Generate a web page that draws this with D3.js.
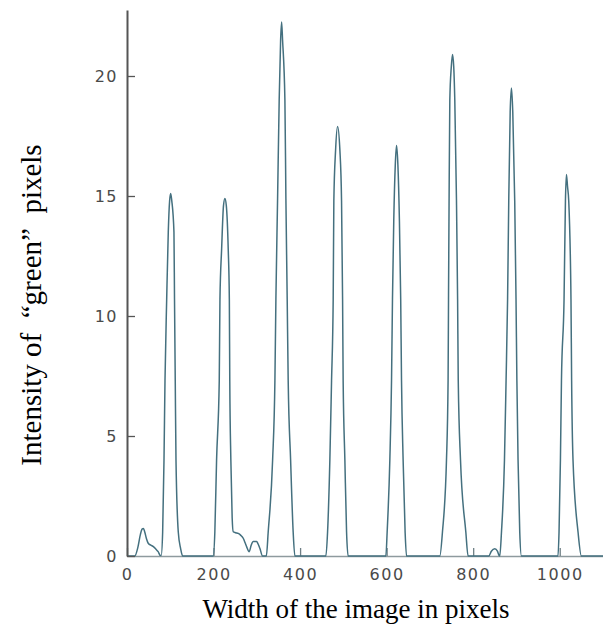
<!DOCTYPE html>
<html>
<head>
<meta charset="utf-8">
<script src="https://cdn.jsdelivr.net/npm/d3@7"></script>
<style>
  html, body { margin: 0; padding: 0; background: #ffffff; }
  svg { display: block; }
</style>
</head>
<body>
<svg id="chart" width="603" height="633"></svg>
<script>
// ---- data ----
const widthPx = [
  0, 18,
  25, 31, 35, 38, 41, 45, 49, 55, 61, 67, 72, 77, 79,
  82.4, 85.5, 87.8, 91.7, 95.4, 98.5, 101, 103.5, 108.5, 109.8, 111.5, 113.2, 118.5, 124, 128.6,
  199.3, 203, 207, 213.2, 214.8, 218.7, 223, 226.3, 229.5, 233.9, 236.5, 237.5, 240, 243, 245.5,
  251, 257, 263, 268.6, 273, 276.4, 282.4, 287, 291.7, 299.5, 303, 307, 313.4,
  322, 326.3, 336.5, 341.8, 344.1, 348, 351.7, 355, 357.3, 359.5, 364.9, 367.2, 370.2, 372.5, 378.1, 384, 388,
  459.6, 463.5, 468.8, 472.7, 476.5, 478, 482, 486.6, 492, 495.8, 498.2, 499.5, 503.5, 507.4, 511,
  598.2, 601.2, 607.4, 611.3, 613.5, 616.5, 620, 622.9, 626, 629.5, 632.5, 634.4, 638.1, 642.7, 646,
  722.9, 729, 738.3, 742, 743, 744.3, 746, 749.5, 752.2, 755, 757.5, 761.4, 764, 765.5, 770.7, 783, 788.2,
  836, 842, 850, 856, 860,
  861.4, 865.4, 872.3, 876, 879.5, 882.2, 885.5, 888.5, 891.5, 896, 899, 901, 903.7, 907.6, 911.5,
  996, 998.4, 1001.6, 1004, 1010, 1013.2, 1015.5, 1018, 1020.8, 1026, 1027.5, 1030.7, 1042.3, 1050,
  1100
];
const greenIntensity = [
  0, 0,
  0.35, 0.9, 1.12, 1.15, 1.0, 0.72, 0.53, 0.45, 0.39, 0.28, 0.18, 0.02, 0.02,
  1, 4, 7.3, 10.7, 13.5, 14.8, 15.1, 14.8, 13.5, 10.7, 7.3, 4, 1, 0.3, 0,
  0, 1, 4, 7.3, 10.7, 12.8, 14.6, 14.9, 14.6, 12.8, 10.7, 7.3, 4, 1.6, 1.01,
  0.97, 0.94, 0.86, 0.74, 0.55, 0.39, 0.18, 0.45, 0.6, 0.6, 0.5, 0.32, 0,
  0, 1, 4, 7.3, 10.7, 14.9, 19.0, 21.5, 22.25, 21.5, 19.0, 14.9, 10.7, 7.3, 4, 1, 0,
  0, 1, 4, 7.3, 10.7, 14.8, 16.9, 17.9, 16.9, 14.8, 10.7, 7.3, 4, 1, 0,
  0, 1, 4, 7.3, 10.7, 14, 16.3, 17.1, 16.3, 14, 10.7, 7.3, 4, 1, 0,
  0, 1, 4, 7.3, 10.7, 14.8, 19.0, 20.4, 20.9, 20.4, 19.0, 14.8, 10.7, 7.3, 4, 1, 0,
  0, 0.2, 0.3, 0.2, 0.02,
  0, 1, 4, 7.3, 10.7, 14.8, 18.5, 19.5, 18.5, 14.8, 10.7, 7.3, 4, 1, 0,
  0, 1, 4, 7.3, 10.7, 14.8, 15.9, 15.4, 14.8, 10.7, 7.3, 4, 1, 0,
  0
];
const xTicks = [0, 200, 400, 600, 800, 1000];
const yTicks = [0, 5, 10, 15, 20];
const xDomain = [0, 1100];
const yDomain = [0, 22.75];
const xTitle = "Width of the image in pixels";
const yTitle = "Intensity of  \u201Cgreen\u201D  pixels";

// ---- drawing ----
const svg = d3.select("#chart");
const x = d3.scaleLinear().domain(xDomain).range([127, 603]);
const y = d3.scaleLinear().domain(yDomain).range([556, 10]);

const points = widthPx.map((v, i) => [v, greenIntensity[i]]);

// x axis
const gx = svg.append("g")
  .attr("transform", `translate(0,${y(0)})`)
  .call(d3.axisBottom(x).tickValues(xTicks).tickFormat(d3.format("d"))
    .tickSize(-8).tickSizeOuter(0).tickPadding(12.5));
gx.select(".domain").attr("stroke", "#8e9a9e").attr("stroke-width", 1.6);
gx.selectAll(".tick line").attr("stroke", "#6f7f85").attr("stroke-width", 1.3);
gx.selectAll(".tick text")
  .attr("font-family", "DejaVu Sans, sans-serif")
  .attr("font-size", 16)
  .attr("letter-spacing", "1.5px")
  .attr("fill", "#4a4a4a");

// curve
const line = d3.line()
  .x(d => x(d[0]))
  .y(d => y(d[1]))
  .curve(d3.curveMonotoneX);

svg.append("path")
  .datum(points)
  .attr("fill", "none")
  .attr("stroke", "#44707f")
  .attr("stroke-width", 1.5)
  .attr("stroke-linejoin", "round")
  .attr("d", line);

// y axis
const gy = svg.append("g")
  .attr("transform", `translate(${x(0)},0)`)
  .call(d3.axisLeft(y).tickValues(yTicks).tickFormat(d3.format("d"))
    .tickSize(-8).tickSizeOuter(0).tickPadding(9));
gy.select(".domain").attr("stroke", "#555").attr("stroke-width", 2);
gy.selectAll(".tick line").attr("stroke", "#555").attr("stroke-width", 1.3);
gy.selectAll(".tick text")
  .attr("font-family", "DejaVu Sans, sans-serif")
  .attr("font-size", 16)
  .attr("letter-spacing", "1.5px")
  .attr("fill", "#4a4a4a");

// titles
svg.append("text")
  .attr("x", 356)
  .attr("y", 618)
  .attr("text-anchor", "middle")
  .attr("font-family", "Liberation Serif, Times New Roman, serif")
  .attr("font-size", 27)
  .attr("fill", "#000")
  .text(xTitle);

svg.append("text")
  .attr("transform", "translate(41,305) rotate(-90)")
  .attr("text-anchor", "middle")
  .attr("font-family", "Liberation Serif, Times New Roman, serif")
  .attr("font-size", 29)
  .attr("fill", "#000")
  .style("white-space", "pre")
  .text(yTitle);
</script>
</body>
</html>
